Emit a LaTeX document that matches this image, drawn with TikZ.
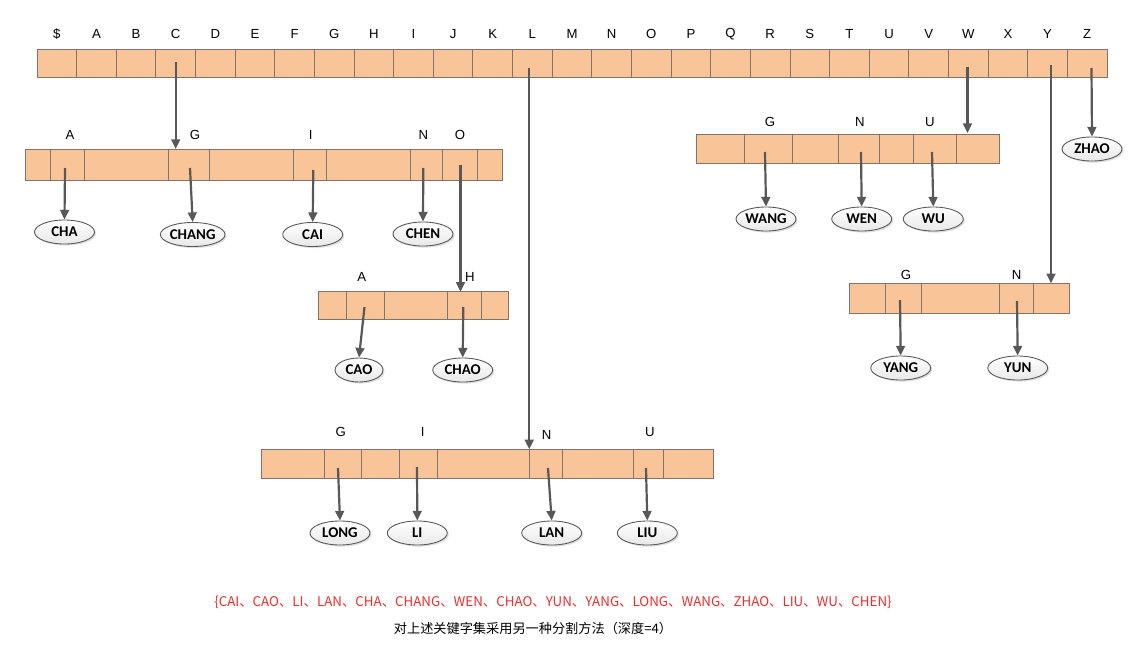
\documentclass[tikz,border=0pt]{standalone}
\usepackage{fontspec}
\setmainfont{Carlito}
\newfontfamily\letterfont{Liberation Sans}
\newfontfamily\cjkfont{Noto Sans CJK SC}
\usetikzlibrary{arrows.meta,shapes.geometric,shadows}

\definecolor{cellfill}{RGB}{249,196,152}
\definecolor{celldraw}{RGB}{128,116,108}
\definecolor{linkgray}{RGB}{88,88,88}
\definecolor{setred}{RGB}{232,48,48}

\tikzset{
	cellbox/.style={draw=celldraw, fill=cellfill, line width=0.5pt},
	letter/.style={font=\letterfont\fontsize{7.5}{8}\selectfont},
	word/.style={ellipse, draw=linkgray, line width=0.5pt, top color=white, bottom color=black!9,
		minimum width=1.2cm, minimum height=0.48cm, inner sep=0pt,
		font=\bfseries\fontsize{8.5}{9}\selectfont,
		drop shadow={shadow xshift=0.9pt, shadow yshift=-0.9pt, opacity=0.25}},
	link/.style={draw=linkgray, line width=1.25pt, -{Triangle[length=5.5pt,width=5pt]}}
}

\begin{document}
\begin{tikzpicture}[x=0.02cm, y=-0.02cm]
	\useasboundingbox (0,0) rectangle (1134,646);

	% top level
	\draw [cellbox] (37,49.3) rectangle (1107,77.3);
	\foreach \i in {1,...,26}
		\draw [celldraw, line width=0.5pt] ({37+\i*39.63},49.3) -- ({37+\i*39.63},77.3);
	\foreach \ch [count=\i from 0] in {\$,A,B,C,D,E,F,G,H,I,J,K,L,M,N,O,P,Q,R,S,T,U,V,W,X,Y,Z}
		\node [letter] (t\i) at ({37+(\i+0.5)*39.63},34) {\ch};

	% second level C
	\draw [cellbox] (25,149) rectangle (502.3,180.3);
	\foreach \x in {50.7,84.3,168.3,209.3,293.3,326,410.7,442.3,477.3}
		\draw [celldraw, line width=0.5pt] (\x,149) -- (\x,180.3);
	\node [letter] (cA) at (70,135) {A};
	\node [letter] (cG) at (195,135) {G};
	\node [letter] (cI) at (310.7,135) {I};
	\node [letter] (cN) at (423.3,135) {N};
	\node [letter] (cO) at (460,135) {O};

	% third level CH
	\draw [cellbox] (318.3,291.7) rectangle (508.3,319.3);
	\foreach \x in {346,384.3,447.7,481.7}
		\draw [celldraw, line width=0.5pt] (\x,291.7) -- (\x,319.3);
	\node [letter] (chA) at (361.7,276.7) {A};
	\node [letter] (chH) at (470,276.7) {H};

	% second level W
	\draw [cellbox] (696,134) rectangle (999.3,163.3);
	\foreach \x in {744.3,792.3,838.3,879,913.3,956.7}
		\draw [celldraw, line width=0.5pt] (\x,134) -- (\x,163.3);
	\node [letter] (wG) at (770,121.7) {G};
	\node [letter] (wN) at (860,121.7) {N};
	\node [letter] (wU) at (930,121.7) {U};

	% second level Y
	\draw [cellbox] (849.3,283.3) rectangle (1069.3,313.3);
	\foreach \x in {885.7,921.7,999.3,1033.3}
		\draw [celldraw, line width=0.5pt] (\x,283.3) -- (\x,313.3);
	\node [letter] (yG) at (906,275) {G};
	\node [letter] (yN) at (1016.7,275) {N};

	% second level L
	\draw [cellbox] (261.7,449.3) rectangle (713.3,478.3);
	\foreach \x in {324,361.7,399.3,437.7,529.3,562.3,633.3,663.3}
		\draw [celldraw, line width=0.5pt] (\x,449.3) -- (\x,478.3);
	\node [letter] (lG) at (340.7,431.7) {G};
	\node [letter] (lI) at (422.7,431.7) {I};
	\node [letter] (lN) at (546.7,435) {N};
	\node [letter] (lU) at (650,431.7) {U};

	% keywords
	\node [word] (cha) at (64.5,232) {CHA};
	\node [word] (chang) at (192.7,234.5) {CHANG};
	\node [word] (cai) at (312.7,234.5) {CAI};
	\node [word] (chen) at (423,234) {CHEN};
	\node [word, minimum width=0.96cm] (cao) at (359,370) {CAO};
	\node [word] (chao) at (462.7,370) {CHAO};
	\node [word] (wang) at (766,219) {WANG};
	\node [word] (wen) at (861.7,219) {WEN};
	\node [word] (wu) at (933.3,219) {WU};
	\node [word] (zhao) at (1092,149) {ZHAO};
	\node [word] (yang) at (900.7,368) {YANG};
	\node [word] (yun) at (1017.7,368) {YUN};
	\node [word] (long) at (340,533) {LONG};
	\node [word] (li) at (417.3,533) {LI};
	\node [word] (lan) at (551.7,533) {LAN};
	\node [word] (liu) at (647.3,533) {LIU};

	% pointers
	\coordinate (fromC) at (175.7,62);
	\coordinate (toC) at (175.7,149);
	\coordinate (fromL) at (529.3,68);
	\coordinate (toL) at (529.3,449.3);
	\coordinate (fromW) at (967.5,66.7);
	\coordinate (toW) at (967.5,133);
	\coordinate (fromY) at (1051,65);
	\coordinate (toY) at (1051,283.3);
	\coordinate (fromZ) at (1091.5,68);
	\coordinate (fromCO) at (460.5,165);
	\coordinate (toCO) at (460.5,291.7);
	\draw [link] (fromC) -- (toC);
	\draw [link] (fromL) -- (toL);
	\draw [link] (fromW) -- (toW);
	\draw [link] (fromY) -- (toY);
	\draw [link] (fromZ) -- (zhao.north);
	\draw [link] (fromCO) -- (toCO);

	\coordinate (cAp) at (65,168);
	\coordinate (cGp) at (190,168);
	\coordinate (cIp) at (313.3,170);
	\coordinate (cNp) at (423.3,168);
	\draw [link] (cAp) -- (cha.north);
	\draw [link] (cGp) -- (chang.north);
	\draw [link] (cIp) -- (cai.north);
	\draw [link] (cNp) -- (chen.north);

	\coordinate (chAp) at (364.5,307);
	\coordinate (chHp) at (463.3,307);
	\draw [link] (chAp) -- (cao.north);
	\draw [link] (chHp) -- (chao.north);

	\coordinate (wGp) at (765,152);
	\coordinate (wNp) at (861,152);
	\coordinate (wUp) at (932,152);
	\draw [link] (wGp) -- (wang.north);
	\draw [link] (wNp) -- (wen.north);
	\draw [link] (wUp) -- (wu.north);

	\coordinate (yGp) at (900,300);
	\coordinate (yNp) at (1017,301);
	\draw [link] (yGp) -- (yang.north);
	\draw [link] (yNp) -- (yun.north);

	\coordinate (lGp) at (338,468);
	\coordinate (lIp) at (417,467);
	\coordinate (lNp) at (548,468);
	\coordinate (lUp) at (646,468);
	\draw [link] (lGp) -- (long.north);
	\draw [link] (lIp) -- (li.north);
	\draw [link] (lNp) -- (lan.north);
	\draw [link] (lUp) -- (liu.north);

	% captions
	\node [text=setred, font=\cjkfont\fontsize{7.6}{9}\selectfont] (keyset) at (553,602)
		{\{CAI、CAO、LI、LAN、CHA、CHANG、WEN、CHAO、YUN、YANG、LONG、WANG、ZHAO、LIU、WU、CHEN\}};
	\node [font=\cjkfont\fontsize{7.5}{8}\selectfont] (caption) at (533,628)
		{对上述关键字集采用另一种分割方法（深度=4）};
\end{tikzpicture}
\end{document}
